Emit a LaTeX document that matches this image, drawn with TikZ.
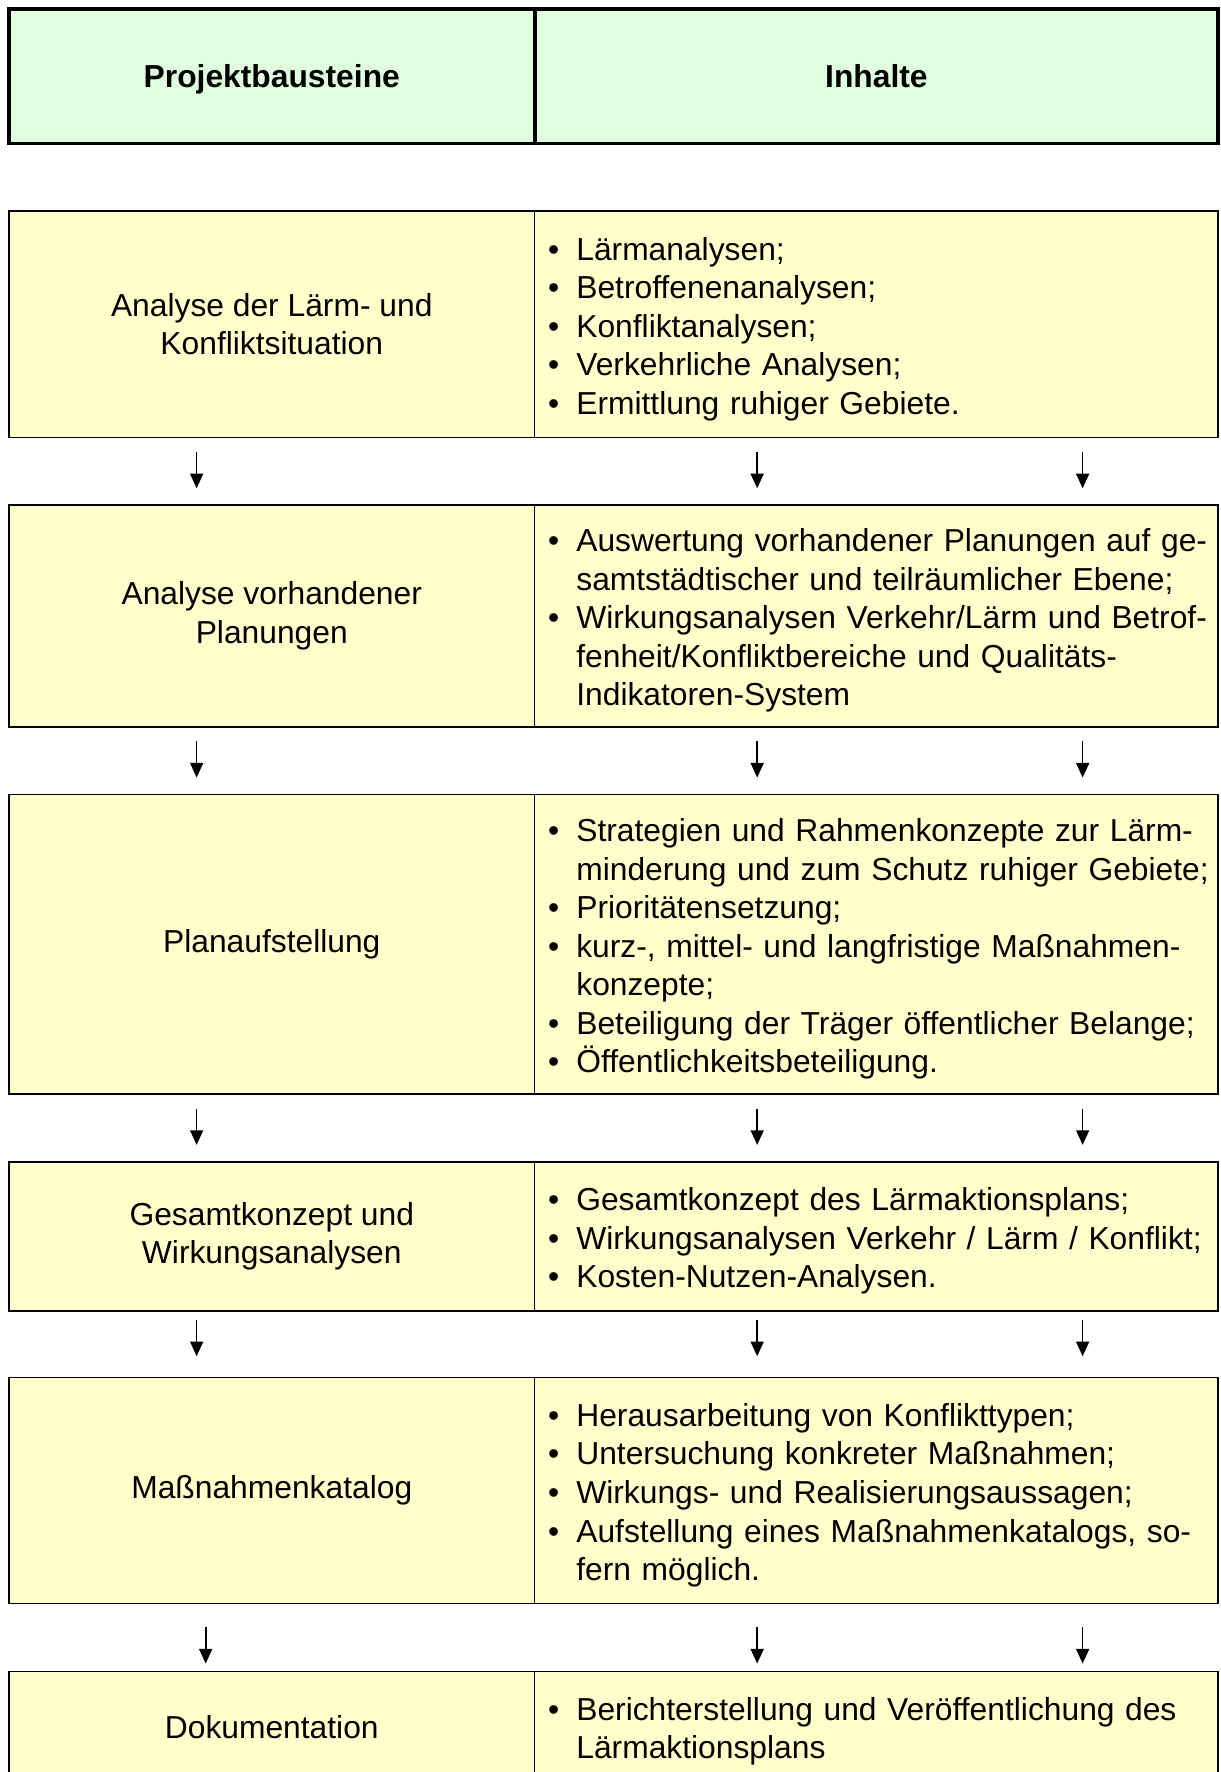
\documentclass[tikz,border=0pt]{standalone}
\usepackage{fontspec}
\setmainfont{Liberation Sans}
\usepackage{xcolor}
\usetikzlibrary{arrows.meta,positioning}
\newlength\pxu
\setlength\pxu{0.4018pt}
\definecolor{headgreen}{RGB}{223,255,223}
\definecolor{rowyellow}{RGB}{255,255,204}
\newcommand{\bitem}[1]{\mbox{\makebox[25\pxu][l]{\textbullet}#1}}
\newcommand{\bcont}[1]{\mbox{\hspace*{25\pxu}#1}}

\begin{document}
\begin{tikzpicture}[
    x=0.4018pt, y=-0.4018pt,
    every node/.style={font=\fontsize{11.3}{13.7}\selectfont, outer sep=0pt},
    headcell/.style={draw, line width=1.4pt, fill=headgreen, minimum height=119*\pxu,
        text height=8.2pt, text depth=0pt,
        font=\fontsize{11.3}{13.7}\selectfont\bfseries},
    stepcell/.style={draw, line width=0.6pt, fill=rowyellow, align=center,
        minimum width=465*\pxu, anchor=north west},
    textcell/.style={draw, line width=0.6pt, fill=rowyellow, align=left,
        text width=581*\pxu, inner xsep=12*\pxu, minimum width=605*\pxu,
        execute at begin node={\rule{0pt}{11.5pt}}},
    flow/.style={-{Triangle[width=4.6pt,length=5.2pt]}, line width=0.6pt}]
\useasboundingbox (0,0) rectangle (1080,1568);

% header
\node[headcell, anchor=north west, minimum width=465*\pxu] (hd-1) at (8,8) {Projektbausteine};
\node[headcell, right=0pt of hd-1, minimum width=605*\pxu] (hd-2) {Inhalte};

% rows
\node[stepcell, minimum height=200*\pxu] (bs-1) at (8,187) {Analyse der Lärm- und\\Konfliktsituation};
\node[textcell, minimum height=200*\pxu, right=0pt of bs-1] (in-1) {%
    \bitem{Lärmanalysen;}\\
    \bitem{Betroffenenanalysen;}\\
    \bitem{Konfliktanalysen;}\\
    \bitem{Verkehrliche Analysen;}\\
    \bitem{Ermittlung ruhiger Gebiete.}};

\node[stepcell, minimum height=196*\pxu] (bs-2) at (8,447) {Analyse vorhandener\\Planungen};
\node[textcell, minimum height=196*\pxu, right=0pt of bs-2] (in-2) {%
    \bitem{Auswertung vorhandener Planungen auf ge-}\\
    \bcont{samtstädtischer und teilräumlicher Ebene;}\\
    \bitem{Wirkungsanalysen Verkehr/Lärm und Betrof-}\\
    \bcont{fenheit/Konfliktbereiche und Qualitäts-}\\
    \bcont{Indikatoren-System}};

\node[stepcell, minimum height=265*\pxu] (bs-3) at (8,703) {Planaufstellung};
\node[textcell, minimum height=265*\pxu, right=0pt of bs-3] (in-3) {%
    \bitem{Strategien und Rahmenkonzepte zur Lärm-}\\
    \bcont{minderung und zum Schutz ruhiger Gebiete;}\\
    \bitem{Prioritätensetzung;}\\
    \bitem{kurz-, mittel- und langfristige Maßnahmen-}\\
    \bcont{konzepte;}\\
    \bitem{Beteiligung der Träger öffentlicher Belange;}\\
    \bitem{Öffentlichkeitsbeteiligung.}};

\node[stepcell, minimum height=132*\pxu] (bs-4) at (8,1028) {Gesamtkonzept und\\Wirkungsanalysen};
\node[textcell, minimum height=132*\pxu, right=0pt of bs-4] (in-4) {%
    \bitem{Gesamtkonzept des Lärmaktionsplans;}\\
    \bitem{Wirkungsanalysen Verkehr / Lärm / Konflikt;}\\
    \bitem{Kosten-Nutzen-Analysen.}};

\node[stepcell, minimum height=200*\pxu] (bs-5) at (8,1219) {Maßnahmenkatalog};
\node[textcell, minimum height=200*\pxu, right=0pt of bs-5] (in-5) {%
    \bitem{Herausarbeitung von Konflikttypen;}\\
    \bitem{Untersuchung konkreter Maßnahmen;}\\
    \bitem{Wirkungs- und Realisierungsaussagen;}\\
    \bitem{Aufstellung eines Maßnahmenkatalogs, so-}\\
    \bcont{fern möglich.}};

\node[stepcell, minimum height=98*\pxu] (bs-6) at (8,1479) {Dokumentation};
\node[textcell, minimum height=98*\pxu, right=0pt of bs-6] (in-6) {%
    \bitem{Berichterstellung und Veröffentlichung des}\\
    \bcont{Lärmaktionsplans}};

% arrows
\coordinate (colA) at (174,0);
\coordinate (colB) at (670,0);
\coordinate (colC) at (958,0);
\coordinate (colD) at (182,0);
\foreach \i/\j/\s/\e in {1/2/5.2pt/6pt, 2/3/5.2pt/6pt, 3/4/5.2pt/6pt, 4/5/3.2pt/7.6pt}
  \foreach \c in {colA,colB,colC}
    \draw[flow, shorten <=\s, shorten >=\e] (bs-\i.south -| \c) -- (bs-\j.north -| \c);
\foreach \c in {colD,colB,colC}
  \draw[flow, shorten <=8.4pt, shorten >=2.8pt] (bs-5.south -| \c) -- (bs-6.north -| \c);

\end{tikzpicture}
\end{document}
